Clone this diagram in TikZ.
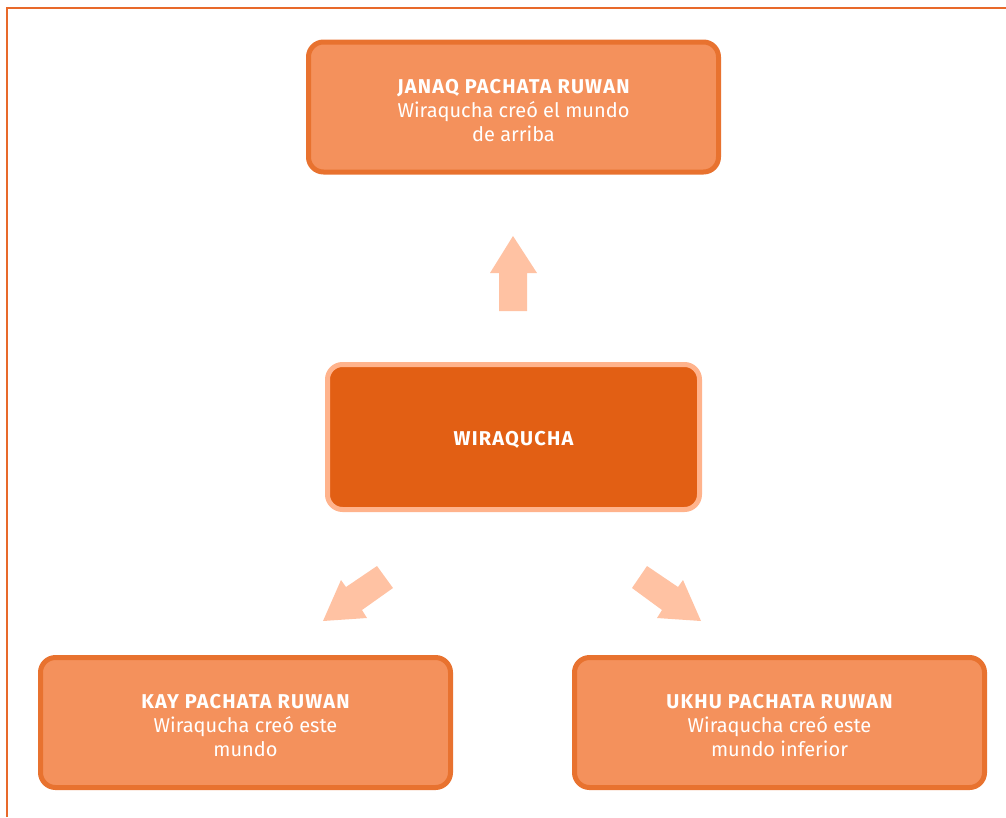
\documentclass[tikz,border=0pt]{standalone}
\usepackage{fontspec}
\setmainfont{Fira Sans}
\definecolor{frameline}{HTML}{E8692A}
\definecolor{boxfill}{HTML}{F4915C}
\definecolor{boxedge}{HTML}{E8722F}
\definecolor{corefill}{HTML}{E25F14}
\definecolor{coreedge}{HTML}{FFB38C}
\definecolor{arrowfill}{HTML}{FFC2A3}
\newcommand{\headline}[1]{{\bfseries\addfontfeatures{LetterSpace=6}#1}}
\begin{document}
\begin{tikzpicture}[x=1pt,y=-1pt,
  worldbox/.style={draw=boxedge, fill=boxfill, line width=5pt, rounded corners=15pt,
    minimum width=410pt, minimum height=130pt, inner sep=0pt},
  corebox/.style={draw=coreedge, fill=corefill, line width=5pt, rounded corners=15pt,
    minimum width=372pt, minimum height=145pt, inner sep=0pt},
  boxtext/.style={align=center, text=white, inner sep=0pt,
    font=\fontsize{20}{24}\selectfont},
  blockarrow/.style={fill=arrowfill, draw=none}]
  \useasboundingbox (0,0) rectangle (1006,817);
  % outer frame: top and left rules
  \draw[frameline, line width=1.6pt] (7,817) -- (7,8) -- (1006,8);

  % the four worlds
  \node[worldbox] (up) at (513.5,107) {};
  \node[corebox] (core) at (513.5,437) {};
  \node[worldbox] (here) at (245.5,722.5) {};
  \node[worldbox] (below) at (779.5,722.5) {};

  \node[boxtext] (uptext) at ([yshift=-3.5pt]up.center)
    {\headline{JANAQ PACHATA RUWAN}\\Wiraqucha creó el mundo\\de arriba};
  \node[boxtext] (coretext) at ([yshift=-3pt]core.center) {\headline{WIRAQUCHA}};
  \node[boxtext] (heretext) at ([yshift=-3.5pt]here.center)
    {\headline{KAY PACHATA RUWAN}\\Wiraqucha creó este\\mundo};
  \node[boxtext] (belowtext) at ([yshift=-3.5pt]below.center)
    {\headline{UKHU PACHATA RUWAN}\\Wiraqucha creó este\\mundo inferior};

  % block arrows
  \fill[blockarrow] (513,236) -- (537,273) -- (527,273) -- (527,311) -- (499,311) -- (499,273) -- (490,273) -- cycle;
  \fill[blockarrow] (323,621) -- (341,580) -- (346,587) -- (377,566) -- (393,588) -- (362,610) -- (367,618) -- cycle;
  \fill[blockarrow] (701,621) -- (683,580) -- (678,587) -- (647,566) -- (632,588) -- (662,610) -- (657,618) -- cycle;
\end{tikzpicture}
\end{document}
